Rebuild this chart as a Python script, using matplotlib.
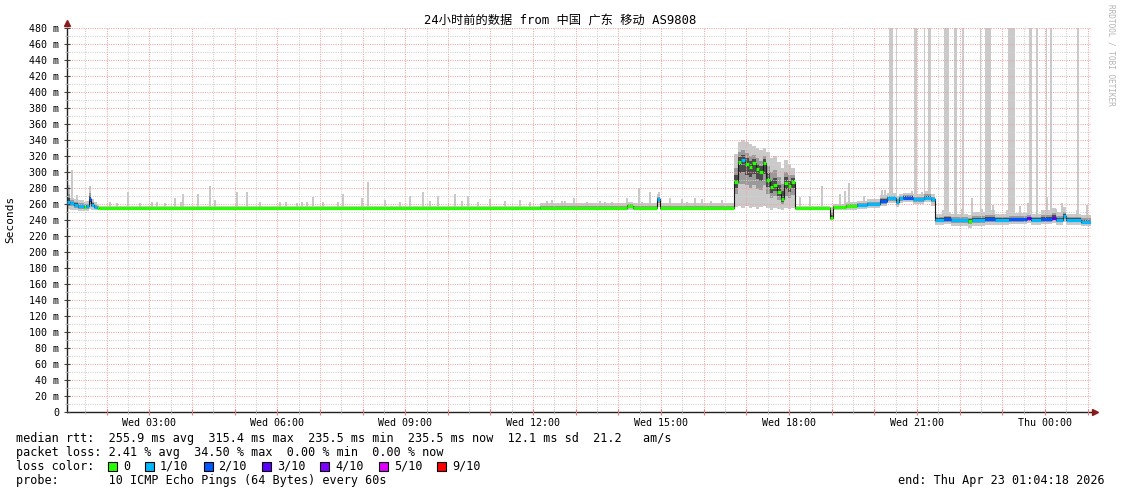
import numpy as np
import matplotlib.pyplot as plt
from matplotlib.ticker import FixedLocator, MultipleLocator, FuncFormatter
from matplotlib.patches import Rectangle

W, H = 1121, 494
plt.rcParams['font.family'] = ['DejaVu Sans Mono', 'Noto Sans CJK SC']

# time window: Wed 01:04:18 -> Thu 01:04:18 (hours since Wed 00:00)
t_start = 1 + 4 / 60 + 18 / 3600
t_end = t_start + 24


def hh(s):
    h, m = map(int, s.split(':'))
    v = h + m / 60
    if v < 1.05:  # Thursday morning
        v += 24
    return v


# median rtt segments (ms), smoke range and loss index
seg_time = ["01:04", "01:08", "01:14", "01:20", "01:28", "01:31", "01:35", "01:38", "01:42", "01:46", "01:50",
            "12:10", "14:12", "14:20", "14:54", "14:59",
            "16:43", "16:48", "16:53", "16:58", "17:03", "17:08", "17:13", "17:18", "17:23", "17:28",
            "17:33", "17:38", "17:43", "17:48", "17:53", "17:58", "18:03",
            "18:08", "18:58", "19:02", "19:20", "19:35", "19:50", "20:08", "20:18", "20:30", "20:34",
            "20:40", "20:55", "21:10", "21:20",
            "21:25", "21:38", "21:48", "22:12", "22:18", "22:35", "22:50", "23:10", "23:34", "23:40",
            "23:55", "00:10", "00:16", "00:25", "00:30", "00:50"]
med = [262, 261, 259, 257, 256, 257, 266, 259, 256, 255, 255,
       255, 258, 255, 266, 255,
       288, 313, 315, 310, 306, 311, 304, 300, 311, 290, 281, 284, 275, 266, 286, 282, 288,
       255, 243, 256, 257, 259, 260, 264, 267, 262, 267, 268, 266, 268, 266,
       240, 241, 240, 239, 240, 241, 240, 241, 242, 240, 241, 243, 240, 245, 240, 238]
lo = [254, 253, 252, 251, 251, 251, 254, 253, 253, 253, 254,
      253, 253, 253, 256, 253,
      256, 257, 255, 257, 255, 256, 254, 256, 257, 255, 253, 255, 254, 253, 255, 254, 255,
      253, 240, 253, 253, 254, 255, 257, 261, 256, 261, 262, 260, 262, 258,
      234, 235, 233, 230, 233, 234, 234, 235, 236, 234, 235, 236, 234, 238, 234, 233]
hi = [284, 268, 266, 265, 263, 264, 282, 266, 262, 259, 257,
      261, 263, 261, 272, 261,
      322, 338, 340, 338, 335, 332, 330, 328, 330, 325, 318, 320, 312, 305, 315, 310, 305,
      258, 256, 260, 262, 264, 266, 271, 274, 270, 273, 274, 272, 276, 272,
      248, 250, 247, 246, 250, 252, 248, 249, 250, 248, 252, 255, 250, 256, 248, 246]
loss = [1, 1, 1, 1, 0, 1, 2, 1, 1, 0, 0,
        0, 0, 0, 1, 0,
        0, 0, 1, 0, 0, 0, 0, 0, 0, 0, 0, 0, 0, 0, 0, 0, 0,
        0, 0, 0, 0, 1, 1, 2, 1, 1, 1, 2, 1, 1, 1,
        1, 2, 1, 0, 1, 2, 1, 2, 3, 1, 2, 3, 1, 1, 1, 1]

# isolated smoke spikes (time, top ms)
spike_time = ["01:12", "01:19", "02:05", "02:15", "02:30", "02:47", "03:04", "03:11", "03:22", "03:36",
              "03:44", "03:48", "04:08", "04:26", "04:33", "05:04", "05:18", "05:36", "06:04", "06:12",
              "06:28", "06:35", "06:42", "06:50", "07:04", "07:25", "07:33", "07:59", "08:08", "08:32",
              "08:53", "09:07", "09:25", "09:35", "09:46", "10:10", "10:20", "10:29", "10:43", "10:59",
              "11:20", "11:42", "11:56", "12:20", "12:27", "12:41", "12:45", "12:58", "13:16", "13:34",
              "13:41", "13:51", "14:12", "14:29", "14:33", "14:44", "14:57", "15:12", "15:29", "15:36",
              "15:47", "15:57", "16:10", "16:26",
              "18:16", "18:29", "18:47", "19:11", "19:18", "19:25", "19:46", "20:11", "20:15", "20:46",
              "20:53", "21:07", "21:14",
              "21:37", "21:55", "22:03", "22:17", "22:31", "22:47", "23:07", "23:25", "23:36", "23:49",
              "00:03", "00:15", "00:24", "00:28", "00:45", "00:59"]
spike_top = [302, 271, 262, 261, 275, 261, 262, 263, 261, 267,
             263, 273, 273, 282, 265, 275, 275, 262, 263, 263,
             261, 263, 263, 269, 262, 262, 272, 268, 288, 265,
             263, 270, 275, 264, 270, 272, 264, 270, 263, 266,
             264, 265, 263, 264, 265, 264, 264, 268, 263, 264,
             263, 263, 268, 280, 263, 275, 275, 268, 266, 262,
             268, 266, 264, 265,
             269, 270, 282, 272, 276, 286, 270, 278, 277, 272,
             276, 275, 272,
             252, 257, 254, 267, 254, 259, 252, 257, 261, 252,
             269, 254, 261, 250, 252, 259]

# timeouts reaching beyond the top of the graph (start, width in minutes)
bar_time = ["20:20", "20:31", "20:56", "21:10", "21:16", "21:38", "21:52", "22:03", "22:29", "22:36",
            "23:08", "23:38", "23:48", "00:01", "00:07", "00:45"]
bar_width = [6, 1.5, 3.5, 1.5, 4, 6.5, 4, 3.5, 1.5, 8, 10, 4, 1.5, 2.5, 3, 3]

loss_labels = ['0', '1/10', '2/10', '3/10', '4/10', '5/10', '9/10']
loss_colors = ['#26ff00', '#00b8ff', '#0059ff', '#5e00ff', '#7e00ff', '#dd00ff', '#ff0000']

fig = plt.figure(figsize=(W / 100, H / 100), dpi=100)
ax = fig.add_axes([67 / W, 1 - 412 / H, (1090.7 - 67) / W, 384 / H])

t0 = np.array([hh(s) for s in seg_time])
edges = np.append(t0, t_end)
med = np.array(med, float)
lo = np.array(lo, float)
hi = np.array(hi, float)


def ext(a):
    return np.append(a, a[-1])


# smoke
ax.fill_between(edges, ext(lo), ext(hi), step='post', color='#cacaca', lw=0, zorder=1)
ax.fill_between(edges, ext((lo + med) / 2), ext((med + hi) / 2), step='post', color='#9a9a9a', lw=0, zorder=1.3)
ax.fill_between(edges, ext(med - (med - lo) / 4), ext(med + (hi - med) / 4), step='post',
                color='#4a4a4a', lw=0, zorder=1.4)

st = np.array([hh(s) for s in spike_time])
idx = np.searchsorted(t0, st, side='right') - 1
ax.vlines(st, med[idx], spike_top, colors='#c4c4c4', lw=1.3, zorder=1.1)

bt = np.array([hh(s) for s in bar_time])
bidx = np.searchsorted(t0, bt, side='right') - 1
ax.bar(bt, 490 - med[bidx], bottom=med[bidx], width=np.array(bar_width) / 60, align='edge',
       color='#cacaca', lw=0, zorder=1.05)

# median
ax.step(edges, ext(med), where='post', color='#1a1a1a', lw=0.8, zorder=2.8)
ax.hlines(med, t0, edges[1:], colors=[loss_colors[l] for l in loss], lw=2.3, zorder=3)

ax.set_xlim(t_start, t_end)
ax.set_ylim(0, 480)

hours = np.arange(2, 26)
ax.xaxis.set_major_locator(FixedLocator(hours))
ax.xaxis.set_minor_locator(FixedLocator(np.arange(1.5, 25.5, 1.0)))


def xfmt(v, pos):
    h = int(round(v))
    if h % 3:
        return ''
    day = 'Wed' if h < 24 else 'Thu'
    return f'{day} {h % 24:02d}:00'


ax.xaxis.set_major_formatter(FuncFormatter(xfmt))
ax.yaxis.set_major_locator(MultipleLocator(20))
ax.yaxis.set_minor_locator(MultipleLocator(10))
ax.yaxis.set_major_formatter(FuncFormatter(lambda v, p: f'{int(v)} m' if v > 0 else '0'))

ax.set_axisbelow(False)
ax.grid(which='major', color='#f3a4a4', lw=0.75, ls=(0, (1, 1.2)))
ax.grid(which='minor', color='#d0d0d0', lw=0.75, ls=(0, (1, 1.2)))

ax.tick_params(axis='both', which='both', labelsize=7.2, colors='black')
ax.tick_params(axis='x', which='major', direction='inout', length=5, color='#e08080', pad=1.5)
ax.tick_params(axis='x', which='minor', direction='inout', length=3, color='#b0b0b0')
ax.tick_params(axis='y', which='major', direction='inout', length=5, color='#404040', pad=3)
ax.tick_params(axis='y', which='minor', direction='inout', length=3, color='#b0b0b0')

for s in ['top', 'right']:
    ax.spines[s].set_visible(False)
for s in ['left', 'bottom']:
    ax.spines[s].set_color('#202020')
    ax.spines[s].set_linewidth(1)
ax.plot([0], [1.012], marker='^', color='#8b1a1a', ms=4, transform=ax.transAxes, clip_on=False)
ax.plot([1.004], [0], marker='>', color='#8b1a1a', ms=4, transform=ax.transAxes, clip_on=False)


def px(x, y):
    return x / W, 1 - y / H


fig.text(*px(560, 21), '24小时前的数据 from 中国 广东 移动 AS9808', ha='center', va='center', fontsize=8.8)
fig.text(*px(10, 219), 'Seconds', rotation=90, ha='center', va='center', fontsize=8)
fig.text(*px(1111, 4), 'RRDTOOL / TOBI OETIKER', rotation=270, ha='center', va='top',
         fontsize=5.6, color='#b4b4b4')

fs = 8.5
fig.text(*px(16, 438), 'median rtt:  255.9 ms avg  315.4 ms max  235.5 ms min  235.5 ms now  12.1 ms sd  21.2   am/s',
         va='center', fontsize=fs)
fig.text(*px(16, 452), 'packet loss: 2.41 % avg  34.50 % max  0.00 % min  0.00 % now', va='center', fontsize=fs)
fig.text(*px(16, 466), 'loss color:', va='center', fontsize=fs)
fig.text(*px(16, 480), 'probe:       10 ICMP Echo Pings (64 Bytes) every 60s', va='center', fontsize=fs)
fig.text(*px(1105, 480), 'end: Thu Apr 23 01:04:18 2026', ha='right', va='center', fontsize=fs)

cw = 7.11
x = 108
for lab, col in zip(loss_labels, loss_colors):
    fig.add_artist(Rectangle(px(x, 470.5), 9 / W, 9 / H, transform=fig.transFigure,
                             fc=col, ec='black', lw=0.8))
    fig.text(*px(x + 15, 466), lab, va='center', fontsize=fs)
    x += 15 + len(lab) * cw + 15

fig.savefig('out.png', dpi=100, facecolor='white')
